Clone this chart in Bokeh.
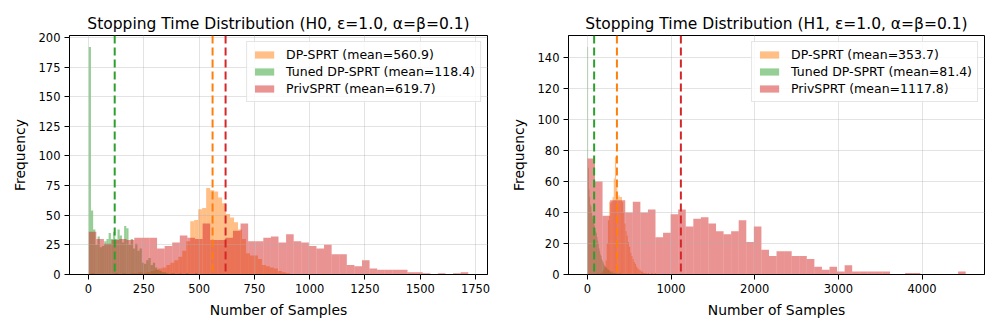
import numpy as np
from bokeh.plotting import figure
from bokeh.layouts import row
from bokeh.models import Range1d, Span, Legend, LegendItem, FixedTicker
from bokeh.embed import file_html
from bokeh.resources import INLINE

# ---------------- data: H0 panel ----------------
h0_title = "Stopping Time Distribution (H0, ε=1.0, α=β=0.1)"
h0_dp_range = (10, 910)
h0_dp_counts = [1, 0, 0, 0, 0, 0, 1, 0, 1, 0, 1, 1, 2, 1, 2, 3, 4, 5, 6, 8,
                10, 12, 15, 20, 28, 45, 46, 55, 56, 73, 71, 70, 65, 60, 51, 48, 44, 38, 30, 18,
                16, 16, 13, 8, 7, 6, 5, 3, 2, 1]
h0_tuned_range = (1, 501)
h0_tuned_counts = [192, 54, 38, 25, 32, 23, 24, 28, 30, 35, 30, 36, 30, 38, 33, 27, 41, 39, 25, 30,
                   22, 26, 20, 22, 10, 9, 12, 14, 8, 10, 6, 4, 3, 2, 2, 1, 0, 1, 1, 0,
                   0, 1, 0, 0, 1, 0, 0, 0, 1, 0]
h0_priv_range = (1, 1717)
h0_priv_counts = [36, 30, 26, 29, 30, 29, 31, 31, 31, 22, 24, 27, 33, 31, 30, 43, 29, 29, 31, 37,
                  43, 28, 28, 31, 32, 27, 34, 28, 27, 24, 22, 25, 17, 17, 8, 7, 12, 5, 4, 4,
                  4, 4, 2, 2, 1, 0, 1, 0, 1, 2]
h0_means = [560.9, 118.4, 619.7]
h0_xticks = [0, 250, 500, 750, 1000, 1250, 1500, 1750]
h0_yticks = [0, 25, 50, 75, 100, 125, 150, 175, 200]

# ---------------- data: H1 panel ----------------
h1_title = "Stopping Time Distribution (H1, ε=1.0, α=β=0.1)"
h1_dp_range = (120, 820)
h1_dp_counts = [1, 0, 1, 1, 2, 3, 5, 9, 20, 35, 47, 46, 47, 50, 62, 76, 56, 50, 51, 50,
                50, 47, 40, 33, 28, 25, 21, 18, 14, 12, 10, 8, 7, 5, 4, 3, 3, 2, 2, 1,
                1, 1, 0, 1, 0, 0, 1, 0, 0, 1]
h1_tuned_range = (1, 401)
h1_tuned_counts = [147, 69, 55, 50, 45, 44, 40, 38, 36, 35, 32, 30, 28, 27, 24, 22, 20, 17, 15, 13,
                   12, 10, 9, 8, 7, 6, 5, 5, 4, 4, 3, 3, 3, 2, 2, 2, 1, 2, 1, 1,
                   1, 0, 1, 0, 1, 0, 0, 1, 0, 1]
h1_priv_range = (1, 4521)
h1_priv_counts = [75, 60, 38, 48, 48, 40, 47, 40, 42, 24, 27, 39, 42, 31, 36, 37, 33, 28, 26, 28,
                  35, 21, 31, 16, 12, 15, 15, 12, 12, 10, 5, 3, 5, 2, 6, 2, 2, 2, 2, 2,
                  0, 0, 1, 1, 0, 0, 0, 0, 0, 2]
h1_means = [353.7, 81.4, 1117.8]
h1_xticks = [0, 1000, 2000, 3000, 4000]
h1_yticks = [0, 20, 40, 60, 80, 100, 120, 140]

series_names = ["DP-SPRT", "Tuned DP-SPRT", "PrivSPRT"]
colors = ["#ff7f0e", "#2ca02c", "#d62728"]
FONT = "DejaVu Sans"


def make_panel(title, ranges, counts_list, means, xticks, yticks, xr, yr,
               min_left, min_right, fw):
    p = figure(frame_width=fw, frame_height=239,
               x_range=Range1d(*xr), y_range=Range1d(*yr),
               output_backend="svg", toolbar_location=None,
               min_border_left=min_left, min_border_right=min_right,
               min_border_top=35, min_border_bottom=55,
               background_fill_color="white", border_fill_color="white")
    p.title.text = title
    p.title.align = "center"
    p.title.text_font = FONT
    p.title.text_font_size = "15.5px"
    p.title.text_font_style = "normal"
    p.title.text_color = "black"
    p.title.offset = 0
    p.title.standoff = 6

    items = []
    for (lo, hi), counts, name, col, m in zip(ranges, counts_list, series_names, colors, means):
        edges = np.linspace(lo, hi, len(counts) + 1)
        r = p.quad(left=edges[:-1], right=edges[1:], bottom=0, top=counts,
                   fill_color=col, fill_alpha=0.5, line_color=None)
        items.append(LegendItem(label=f"{name} (mean={m})", renderers=[r]))

    for m, col in zip(means, colors):
        p.add_layout(Span(location=m, dimension="height", line_color=col,
                          line_width=2, line_dash="8 4"))

    for ax in (p.xaxis[0], p.yaxis[0]):
        ax.major_label_text_font = FONT
        ax.major_label_text_font_size = "11.5px"
        ax.major_label_text_color = "black"
        ax.axis_label_text_font = FONT
        ax.axis_label_text_font_size = "13.9px"
        ax.axis_label_text_font_style = "normal"
        ax.axis_label_text_color = "black"
        ax.major_tick_out = 5
        ax.major_tick_in = 0
        ax.minor_tick_out = 0
        ax.minor_tick_in = 0
        ax.axis_line_color = "black"
        ax.major_tick_line_color = "black"
    p.xaxis[0].ticker = FixedTicker(ticks=xticks)
    p.yaxis[0].ticker = FixedTicker(ticks=yticks)
    p.xaxis[0].axis_label = "Number of Samples"
    p.yaxis[0].axis_label = "Frequency"
    p.xaxis[0].major_label_standoff = 4
    p.yaxis[0].major_label_standoff = 4
    p.xaxis[0].axis_label_standoff = 6
    p.yaxis[0].axis_label_standoff = 8

    for g in (p.xgrid[0], p.ygrid[0]):
        g.grid_line_color = "#b0b0b0"
        g.grid_line_alpha = 0.35
        g.grid_line_width = 1
        g.level = "guide"

    p.outline_line_color = "black"
    p.outline_line_width = 1
    p.outline_line_alpha = 1

    leg = Legend(items=items, location="top_right")
    leg.label_text_font = FONT
    leg.label_text_font_size = "12.5px"
    leg.label_text_color = "black"
    leg.glyph_width = 24
    leg.glyph_height = 9
    leg.label_height = 14
    leg.label_standoff = 10
    leg.spacing = 2
    leg.padding = 5
    leg.margin = 6
    leg.border_line_color = "#cccccc"
    leg.border_line_width = 1
    leg.background_fill_alpha = 0.8
    p.add_layout(leg)
    return p


p1 = make_panel(h0_title, [h0_dp_range, h0_tuned_range, h0_priv_range],
                [h0_dp_counts, h0_tuned_counts, h0_priv_counts], h0_means,
                h0_xticks, h0_yticks, (-86, 1804), (0, 201.6), 69, 20, 418)
p2 = make_panel(h1_title, [h1_dp_range, h1_tuned_range, h1_priv_range],
                [h1_dp_counts, h1_tuned_counts, h1_priv_counts], h1_means,
                h1_xticks, h1_yticks, (-225, 4746), (0, 154.4), 60, 6, 416)

layout = row(p1, p2)
open("out.html", "w").write(file_html(layout, INLINE))
